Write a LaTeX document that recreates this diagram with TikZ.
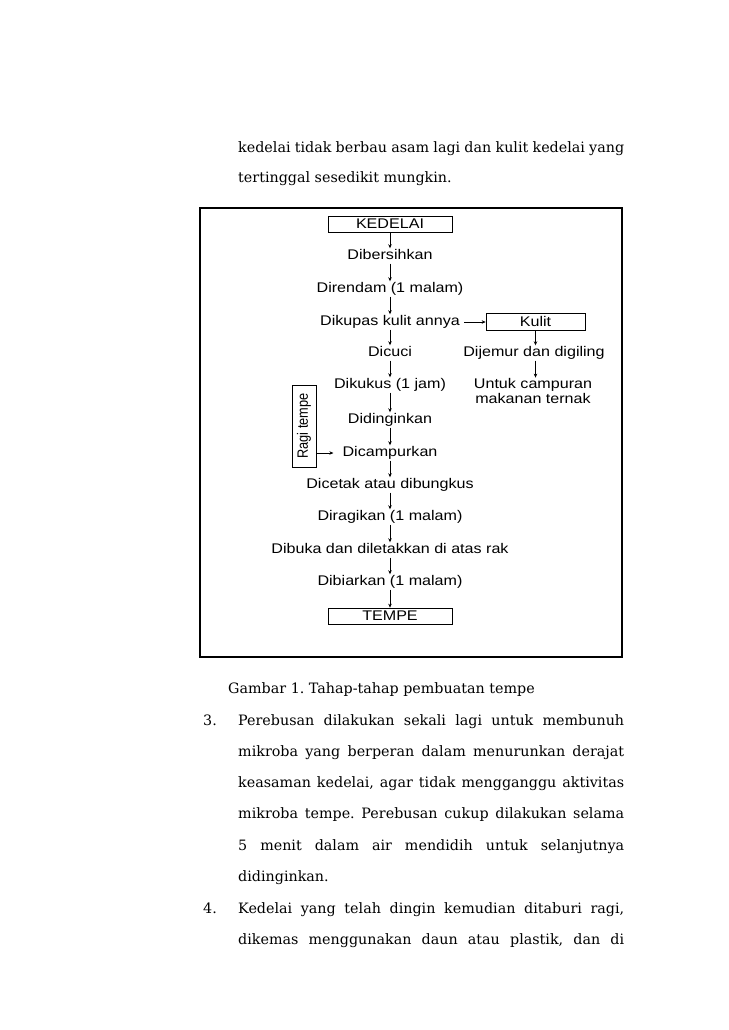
\documentclass[tikz,border=0pt]{standalone}
\usepackage{fontspec}
\setmainfont{DejaVu Serif}
\newfontfamily\flowfont[FakeStretch=1.15]{Liberation Sans}
\newfontfamily\ragifont[FakeStretch=0.85]{Liberation Sans}
\usetikzlibrary{arrows.meta}
\newcommand{\jline}[1]{\hbox to 386pt{#1}}
\frenchspacing

\begin{document}
\begin{tikzpicture}[x=1pt, y=-1pt]
    \tikzset{ st/.style={font=\flowfont\fontsize{14}{13}\selectfont, text height=10pt, text depth=3pt, inner sep=1pt} }
    \tikzset{ bx/.style={st, draw=black, line width=0.7pt, minimum width=124pt, minimum height=16pt, text height=9pt, text depth=1pt} }
    \tikzset{ arr/.style={-{Stealth[length=4pt, width=3.5pt]}, line width=0.7pt} }
    \tikzset{ txt/.style={anchor=base west, inner sep=0pt, font=\fontsize{14.3}{16}\selectfont} }

    \useasboundingbox (0,0) rectangle (728,1030);
    \fill[white] (0,0) rectangle (728,1030);

    % text above
    \node[txt] (t1) at (238,153) {\jline{kedelai tidak berbau asam lagi dan kulit kedelai yang}};
    \node[txt] (t2) at (238,182) {tertinggal sesedikit mungkin.};

    % frame
    \draw[line width=1.1pt] (200,208) rectangle (622,657);

    \node[bx] (ked) at (390,224) {KEDELAI};
    \node[st] (dib) at (390,256) {Dibersihkan};
    \node[st] (ren) at (390,289) {Direndam (1 malam)};
    \node[st] (kup) at (390,322) {Dikupas kulit annya};
    \node[bx, minimum width=99pt, minimum height=17pt] (kul) at (535.5,322) {Kulit};
    \node[st] (cuc) at (390,353) {Dicuci};
    \node[st] (jem) at (534,353) {Dijemur dan digiling};
    \node[st, align=center, text height=, text depth=] (unt) at (533,391) {Untuk campuran\\makanan ternak};
    \node[st] (kuk) at (390,385) {Dikukus (1 jam)};
    \node[st] (din) at (390,420) {Didinginkan};
    \node[st] (cam) at (390,453) {Dicampurkan};
    \node[draw=black, line width=0.7pt, rotate=90, minimum width=82pt, minimum height=24pt, inner sep=1pt, font=\ragifont\fontsize{15}{14}\selectfont] (rag) at (304,426) {Ragi tempe};
    \node[st] (cet) at (390,485) {Dicetak atau dibungkus};
    \node[st] (rag2) at (390,517) {Diragikan (1 malam)};
    \node[st] (buk) at (390,550) {Dibuka dan diletakkan di atas rak};
    \node[st] (bia) at (390,582) {Dibiarkan (1 malam)};
    \node[bx] (tem) at (390,616) {TEMPE};

    \draw[arr] (ked) -- (dib);
    \draw[arr] (dib) -- (ren);
    \draw[arr] (ren) -- (kup);
    \draw[arr, shorten <=3pt] (kup) -- (kul);
    \draw[arr] (kup) -- (cuc);
    \draw[arr] (kul.south) -- (kul.south |- jem.north);
    \draw[arr] (kul.south |- jem.south) -- (kul.south |- unt.north);
    \draw[arr] (cuc) -- (kuk);
    \draw[arr] (kuk) -- (din);
    \draw[arr] (din) -- (cam);
    \draw[arr, shorten >=8pt] (rag.south |- cam) -- (cam.west);
    \draw[arr] (cam) -- (cet);
    \draw[arr] (cet) -- (rag2);
    \draw[arr] (rag2) -- (buk);
    \draw[arr] (buk) -- (bia);
    \draw[arr] (bia) -- (tem);

    % text below
    \node[txt] (cap) at (228,693) {Gambar 1. Tahap-tahap pembuatan tempe};
    \node[txt] (n3) at (203,725) {3.};
    \node[txt] (p1) at (238,725) {\jline{Perebusan dilakukan sekali lagi untuk membunuh}};
    \node[txt] (p2) at (238,756) {\jline{mikroba yang berperan dalam menurunkan derajat}};
    \node[txt] (p3) at (238,787) {\jline{keasaman kedelai, agar tidak mengganggu aktivitas}};
    \node[txt] (p4) at (238,818) {\jline{mikroba tempe. Perebusan cukup dilakukan selama}};
    \node[txt] (p5) at (238,850) {\jline{5 menit dalam air mendidih untuk selanjutnya}};
    \node[txt] (p6) at (238,881) {didinginkan.};
    \node[txt] (n4) at (203,913) {4.};
    \node[txt] (q1) at (238,913) {\jline{Kedelai yang telah dingin kemudian ditaburi ragi,}};
    \node[txt] (q2) at (238,944) {\jline{dikemas menggunakan daun atau plastik, dan di}};
\end{tikzpicture}
\end{document}
